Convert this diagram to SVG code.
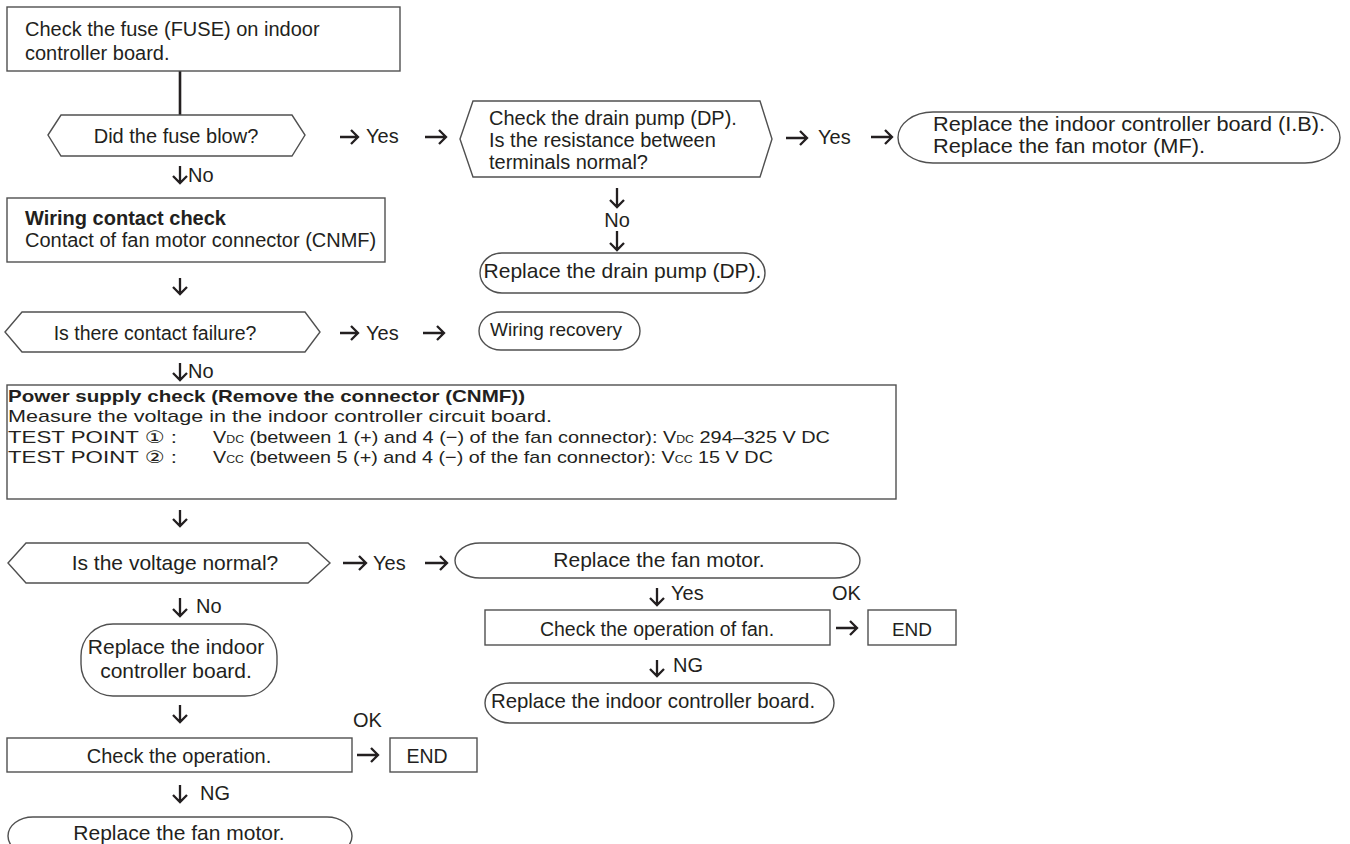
<svg xmlns="http://www.w3.org/2000/svg" width="1350" height="844" viewBox="0 0 1350 844">
<style>
text{font-family:"Liberation Sans",Arial,"DejaVu Sans",sans-serif;font-size:20px;fill:#231f20}
.b{font-weight:bold}
.m{text-anchor:middle}
.box{fill:#fff;stroke:#505050;stroke-width:1.4}
.arr{fill:none;stroke:#231f20;stroke-width:2.3}
.ln{fill:none;stroke:#231f20;stroke-width:2.6}
.ps{font-size:17px}
.sub{font-size:10.5px}
</style>
<rect width="1350" height="844" fill="#fff"/>
<g id="connectors">
<path class="ln" d="M180 71V115"/>
<path class="arr" d="M340 137H358M351 130L358 137L351 144"/>
<path class="arr" d="M425 137H446M439 130L446 137L439 144"/>
<path class="arr" d="M786 138H807M800 131L807 138L800 145"/>
<path class="arr" d="M871 137H892M885 130L892 137L885 144"/>
<path class="arr" d="M340 333H358M351 326L358 333L351 340"/>
<path class="arr" d="M423 333H444M437 326L444 333L437 340"/>
<path class="arr" d="M343 563H366M359 556L366 563L359 570"/>
<path class="arr" d="M425 563H447M440 556L447 563L440 570"/>
<path class="arr" d="M836 628H857M850 621L857 628L850 635"/>
<path class="arr" d="M357 755H378M371 748L378 755L371 762"/>
<path class="arr" d="M180 166V183M173 176L180 183L187 176"/>
<path class="arr" d="M180 278V294M173 287L180 294L187 287"/>
<path class="arr" d="M617 188V207M610 200L617 207L624 200"/>
<path class="arr" d="M617 231V250M610 243L617 250L624 243"/>
<path class="arr" d="M180 363V380M173 373L180 380L187 373"/>
<path class="arr" d="M180 510V526M173 519L180 526L187 519"/>
<path class="arr" d="M180 598V616M173 609L180 616L187 609"/>
<path class="arr" d="M657 588V605M650 598L657 605L664 598"/>
<path class="arr" d="M657 660V676M650 669L657 676L664 669"/>
<path class="arr" d="M180 705V722M173 715L180 722L187 715"/>
<path class="arr" d="M180 785V802M173 795L180 802L187 795"/>
<text x="366" y="143">Yes</text>
<text x="818" y="144">Yes</text>
<text x="188" y="182">No</text>
<text x="617" y="227" class="m">No</text>
<text x="366" y="340">Yes</text>
<text x="188" y="378">No</text>
<text x="373" y="570">Yes</text>
<text x="196" y="613">No</text>
<text x="671" y="600">Yes</text>
<text x="832" y="600">OK</text>
<text x="673" y="672">NG</text>
<text x="353" y="727">OK</text>
<text x="200" y="800">NG</text>
</g>
<g id="n_fuse">
<rect class="box" x="7" y="7" width="393" height="64"/>
<text x="25" y="36">Check the fuse (FUSE) on indoor</text>
<text x="25" y="60">controller board.</text>
</g>
<g id="d_fuse">
<polygon class="box" points="48,135 61,115 292,115 305,135 292,156 61,156"/>
<text x="176" y="143" class="m">Did the fuse blow?</text>
</g>
<g id="d_drain">
<polygon class="box" points="460,139 473,101 760,101 772,139 760,177 473,177"/>
<text x="489" y="125">Check the drain pump (DP).</text>
<text x="489" y="147">Is the resistance between</text>
<text x="489" y="169">terminals normal?</text>
</g>
<g id="r_ib_mf">
<rect class="box" x="898" y="112" width="442" height="51" rx="35" ry="25.5"/>
<text x="933" y="131" textLength="392" lengthAdjust="spacingAndGlyphs">Replace the indoor controller board (I.B).</text>
<text x="933" y="153" textLength="272" lengthAdjust="spacingAndGlyphs">Replace the fan motor (MF).</text>
</g>
<g id="r_dp">
<rect class="box" x="480" y="253" width="285" height="40" rx="22" ry="20"/>
<text x="622.5" y="278" class="m" style="font-size:21px">Replace the drain pump (DP).</text>
</g>
<g id="n_wiring">
<rect class="box" x="7" y="198" width="378" height="64"/>
<text x="25" y="225" class="b">Wiring contact check</text>
<text x="25" y="247">Contact of fan motor connector (CNMF)</text>
</g>
<g id="d_contact">
<polygon class="box" points="5,332 22,312 305,312 320,332 305,352 22,352"/>
<text x="155" y="340" class="m" style="font-size:19.5px">Is there contact failure?</text>
</g>
<g id="r_recovery">
<rect class="box" x="479" y="312" width="161" height="38" rx="22" ry="19"/>
<text x="490" y="336" style="font-size:19px">Wiring recovery</text>
</g>
<g id="n_power">
<rect class="box" x="7" y="385" width="889" height="114"/>
<text x="8" y="402" class="ps b" textLength="517" lengthAdjust="spacingAndGlyphs">Power supply check (Remove the connector (CNMF))</text>
<text x="8" y="422" class="ps" textLength="544" lengthAdjust="spacingAndGlyphs">Measure the voltage in the indoor controller circuit board.</text>
<text x="8" y="443" class="ps" textLength="169" lengthAdjust="spacingAndGlyphs">TEST POINT ① :</text>
<text x="213" y="443" class="ps" textLength="617" lengthAdjust="spacingAndGlyphs">V<tspan class="sub">DC</tspan> (between 1 (+) and 4 (−) of the fan connector): V<tspan class="sub">DC</tspan> 294–325 V DC</text>
<text x="8" y="463" class="ps" textLength="169" lengthAdjust="spacingAndGlyphs">TEST POINT ② :</text>
<text x="213" y="463" class="ps" textLength="560" lengthAdjust="spacingAndGlyphs">V<tspan class="sub">CC</tspan> (between 5 (+) and 4 (−) of the fan connector): V<tspan class="sub">CC</tspan> 15 V DC</text>
</g>
<g id="d_voltage">
<polygon class="box" points="8,563 26,543 308,543 330,563 308,583 26,583"/>
<text x="175" y="570" class="m" style="font-size:21px">Is the voltage normal?</text>
</g>
<g id="r_fanmotor1">
<rect class="box" x="455" y="543" width="405" height="35" rx="25" ry="17.5"/>
<text x="659" y="567" class="m" style="font-size:21px">Replace the fan motor.</text>
</g>
<g id="n_checkfan">
<rect class="box" x="485" y="610" width="345" height="35"/>
<text x="657" y="636" class="m" style="font-size:19.5px">Check the operation of fan.</text>
</g>
<g id="n_end1">
<rect class="box" x="868" y="610" width="88" height="35"/>
<text x="912" y="636" class="m" style="font-size:19px">END</text>
</g>
<g id="r_ib2">
<rect class="box" x="485" y="683" width="349" height="40" rx="25" ry="20"/>
<text x="653" y="708" class="m" style="font-size:20.4px">Replace the indoor controller board.</text>
</g>
<g id="r_ib3">
<rect class="box" x="81" y="624" width="196" height="72" rx="32" ry="32"/>
<text x="176" y="654" class="m" style="font-size:21px">Replace the indoor</text>
<text x="176" y="678" class="m" style="font-size:21px">controller board.</text>
</g>
<g id="n_checkop">
<rect class="box" x="7" y="738" width="345" height="34"/>
<text x="179" y="763" class="m">Check the operation.</text>
</g>
<g id="n_end2">
<rect class="box" x="390" y="738" width="87" height="34"/>
<text x="427" y="763" class="m" style="font-size:19.5px">END</text>
</g>
<g id="r_fanmotor2">
<rect class="box" x="8" y="817" width="344" height="38" rx="25" ry="19"/>
<text x="179" y="840" class="m" style="font-size:21px">Replace the fan motor.</text>
</g>
</svg>
